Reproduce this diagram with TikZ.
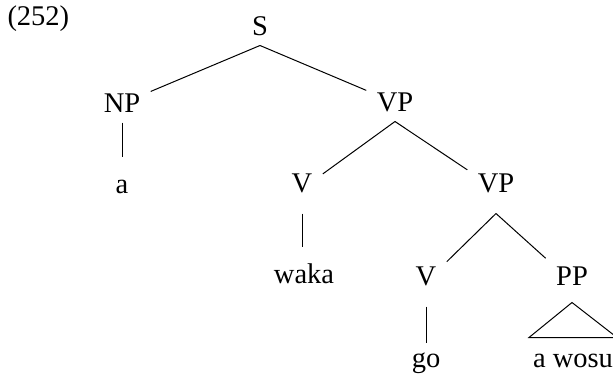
\documentclass[tikz,border=0pt]{standalone}
\usepackage{fontspec}
\setmainfont{Liberation Serif}

\begin{document}
\begin{tikzpicture}[x=0.4pt, y=-0.4pt,
    every node/.style={font=\fontsize{11.4}{13}\selectfont},
    cat/.style={anchor=base, inner sep=4pt, text height=6.8pt, text depth=0pt},
    lowcat/.style={cat, text depth=4.4pt},
    leaf/.style={anchor=base, inner sep=4pt, text height=10.4pt, text depth=0pt},
    lastleaf/.style={leaf, text height=5.6pt}]

    \useasboundingbox (0,0) rectangle (613,374);

    % Example number
    \node[anchor=base west, inner sep=0pt] (num) at (7,25) {(252)};

    % Categories
    \node[cat] (S) at (260,35) {S};
    \node[cat] (NP) at (122,112) {NP};
    \node[cat] (VPa) at (395,111) {VP};
    \node[lowcat] (Va) at (302,192) {V};
    \node[lowcat] (VPb) at (496,192) {VP};
    \node[lowcat] (Vb) at (426,285) {V};
    \node[lowcat] (PP) at (572,285) {PP};

    % Words
    \node[leaf] (a) at (122,193) {a};
    \node[leaf] (waka) at (304,283) {waka};
    \node[lastleaf] (go) at (426,367) {go};
    \node[lastleaf] (wosu) at (573,367) {a wosu};

    % Branches
    \draw (S.south) -- (NP);
    \draw (S.south) -- (VPa);
    \draw (VPa.south) -- (Va);
    \draw (VPa.south) -- (VPb);
    \draw (VPb.south) -- (Vb);
    \draw (VPb.south) -- (PP);

    % Unary lines
    \draw (NP.south) -- (a.north);
    \draw (Va.south) -- (waka.north -| Va.south);
    \draw (Vb.south) -- (go.north);

    % Roof over the PP
    \draw ([yshift=1.6pt]PP.south) -- ([shift={(-17.6pt,2pt)}]wosu.north)
        -- ([shift={(17.6pt,2pt)}]wosu.north) -- cycle;
\end{tikzpicture}
\end{document}
